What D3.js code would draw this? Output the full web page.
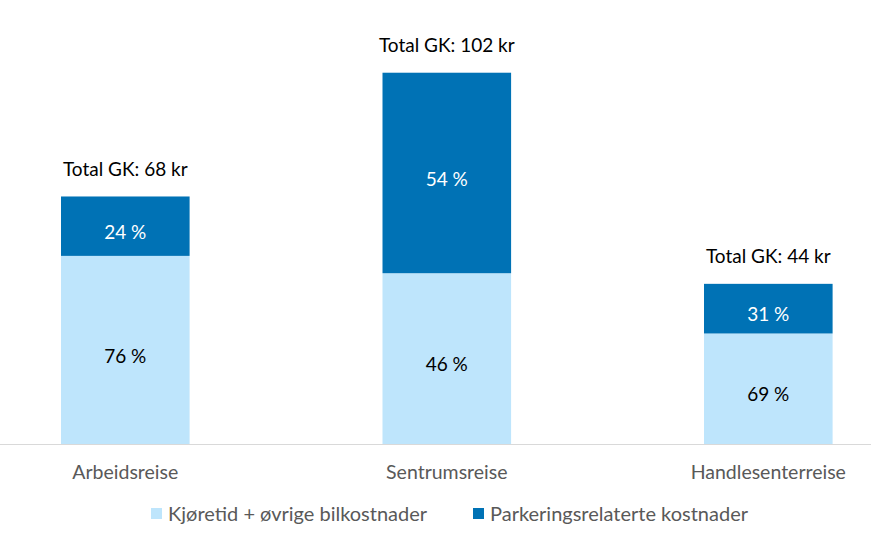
<!DOCTYPE html>
<html><head><meta charset="utf-8">
<script src="https://cdn.jsdelivr.net/npm/d3@7"></script>
<style>
body{margin:0;background:#fff;}
text{font-family:Lato,"Open Sans",sans-serif;}
</style></head>
<body><svg id="c" width="871" height="551"></svg>
<script>
const categories = ["Arbeidsreise","Sentrumsreise","Handlesenterreise"];
const totals = [68, 102, 44];
const driveShare = [76, 46, 69];
const parkShare = [24, 54, 31];
const seriesNames = ["Kjøretid + øvrige bilkostnader","Parkeringsrelaterte kostnader"];
const colors = ["#BEE5FC","#0072B5"];
const textColors = ["#000000","#ffffff"];

const svg = d3.select("#c");
const step = 321.5, pIn = 0.6, pOut = 0.3;
const x0 = 61 - pOut*step;
const x = d3.scaleBand().domain(categories).range([x0, x0 + step*(3 - pIn + 2*pOut)]).paddingInner(pIn).paddingOuter(pOut);
const y = d3.scaleLinear().domain([0,120]).range([444, 444-120*3.64]);

const rows = categories.map((c,i)=>({cat:c, drive: totals[i]*driveShare[i]/100, park: totals[i]*parkShare[i]/100, dShare: driveShare[i], pShare: parkShare[i], total: totals[i]}));
const stack = d3.stack().keys(["drive","park"])(rows);

stack.forEach((layer,li)=>{
  const g = svg.append("g");
  g.selectAll("rect").data(layer).enter().append("rect")
    .attr("x", d=>x(d.data.cat)).attr("width", x.bandwidth())
    .attr("y", d=>y(d[1])).attr("height", d=>y(d[0])-y(d[1]))
    .attr("fill", colors[li]);
  g.selectAll("text").data(layer).enter().append("text")
    .attr("x", d=>x(d.data.cat)+x.bandwidth()/2)
    .attr("y", d=>(y(d[0])+y(d[1]))/2 + 6)
    .attr("dy","0.35em").attr("text-anchor","middle")
    .attr("font-size",19).attr("fill",textColors[li])
    .text(d=>(li===0?d.data.dShare:d.data.pShare)+" %");
});

// total labels
svg.append("g").selectAll("text").data(rows).enter().append("text")
  .attr("x", d=>x(d.cat)+x.bandwidth()/2)
  .attr("y", d=>y(d.total)-27).attr("dy","0.35em")
  .attr("text-anchor","middle").attr("font-size",19).attr("fill","#000")
  .text(d=>"Total GK: "+d.total+" kr");

// axis
const ax = svg.append("g").attr("transform","translate(0,444.5)")
  .call(d3.axisBottom(x).tickSize(0).tickPadding(21));
ax.select(".domain").attr("stroke","#d9d9d9").attr("d","M0,0H871");
ax.selectAll("text").attr("font-size",19.5).attr("fill","#595959").attr("font-family","Lato,'Open Sans',sans-serif");

// legend
const legX = [151, 473];
const lg = svg.append("g");
seriesNames.forEach((n,i)=>{
  lg.append("rect").attr("x",legX[i]).attr("y",508).attr("width",11).attr("height",11).attr("fill",colors[i]);
  lg.append("text").attr("x",legX[i]+17).attr("y",514).attr("dy","0.35em")
    .attr("font-size",20).attr("fill","#595959").text(n);
});
</script></body></html>
